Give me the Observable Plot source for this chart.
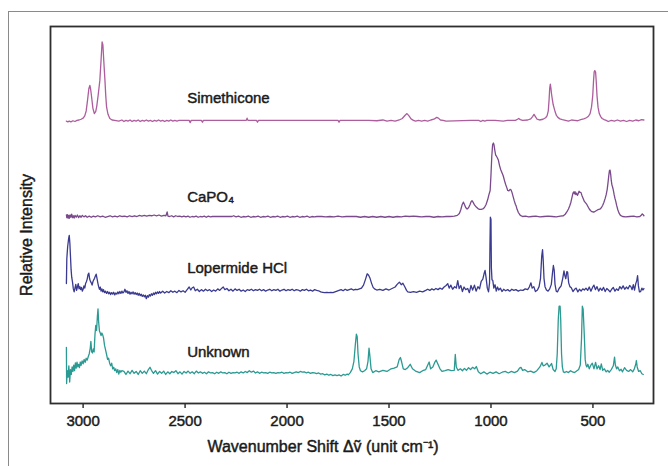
<!DOCTYPE html>
<html><head><meta charset="utf-8">
<script src="https://cdn.jsdelivr.net/npm/d3@7"></script>
<script src="https://cdn.jsdelivr.net/npm/@observablehq/plot@0.6"></script>
<style>
html,body{margin:0;padding:0;background:#fff;}
body{width:668px;height:466px;overflow:hidden;position:relative;font-family:"Liberation Sans",Arial,sans-serif;}
#border{position:absolute;left:8px;top:11px;width:700px;height:500px;border-left:1px solid #8a8a8a;border-top:1px solid #8a8a8a;}
#chart{position:absolute;left:0;top:0;}
</style></head><body><div id="border"></div><div id="chart"></div>
<script>
const seriesNames = ["Simethicone", "CaPO₄", "Lopermide HCl", "Unknown"];
const seriesColors = ["#ad5d9d", "#7a4a8c", "#3a3a90", "#2b9a92"];
const baselines = [75.1, 49.6, 30.0, 8.2];
const labelHeights = [80.9, 54.6, 35.8, 13.5];
const labelWavenumber = 2490;
const xTicks = [3000, 2500, 2000, 1500, 1000, 500];

const simethicone = [[3082,-0.2],[3075,-0.4],[3068,-0.2],[3060,-0.4],[3050,-0.1],[3040,-0.3],[3030,0.0],[3020,0.1],[3010,0.3],[3000,0.6],[2992,1.2],[2985,2.5],[2978,5.5],[2972,8.4],[2967,9.3],[2963,8.2],[2958,6.0],[2952,3.2],[2945,1.8],[2938,2.4],[2933,3.8],[2926,6.8],[2918,10.6],[2912,16.0],[2907,20.8],[2903,20.0],[2899,16.0],[2893,10.6],[2889,6.5],[2885,3.5],[2878,1.6],[2869,0.5],[2858,0.1],[2845,0.0],[2825,-0.2],[2810,0.1],[2800,-0.3],[2790,0.0],[2780,-0.2],[2770,0.1],[2760,-0.3],[2750,0.0],[2740,-0.2],[2730,0.1],[2720,-0.3],[2710,0.0],[2700,-0.2],[2690,0.1],[2680,-0.2],[2670,0.0],[2660,-0.3],[2650,0.0],[2640,-0.2],[2630,0.1],[2620,-0.2],[2610,0.0],[2600,-0.3],[2590,0.0],[2580,-0.2],[2570,0.1],[2560,-0.2],[2550,0.0],[2540,-0.2],[2530,0.0],[2480,0.0],[2475,-0.6],[2470,0.0],[2420,0.0],[2415,-0.5],[2410,0.0],[2200,0.0],[2196,0.6],[2192,0.0],[2150,0.0],[2145,-0.5],[2140,0.0],[1750,0.0],[1745,-0.5],[1740,0.0],[1600,0.0],[1560,-0.1],[1530,0.1],[1510,-0.2],[1490,0.0],[1470,-0.2],[1450,0.1],[1435,0.5],[1422,1.3],[1412,1.8],[1402,1.2],[1392,0.4],[1380,0.0],[1370,-0.2],[1355,0.0],[1340,-0.2],[1325,0.0],[1310,-0.2],[1295,0.1],[1280,0.3],[1266,0.8],[1258,0.6],[1248,0.1],[1235,0.0],[1220,-0.2],[1100,0.0],[1060,0.0],[1050,-0.3],[1040,0.0],[1030,-0.2],[1020,0.0],[980,0.0],[940,-0.2],[920,0.0],[880,0.0],[870,0.3],[864,0.5],[856,0.2],[845,0.0],[820,0.1],[805,0.4],[796,1.0],[789,1.6],[782,1.0],[774,0.3],[762,0.1],[745,0.3],[732,0.7],[725,1.2],[719,2.5],[715,5.5],[712,8.5],[709,9.6],[706,8.5],[703,7.0],[699,5.5],[695,4.2],[690,3.2],[685,2.2],[679,1.3],[672,0.8],[662,0.4],[650,0.2],[635,0.0],[620,-0.2],[605,0.1],[590,0.0],[575,-0.1],[560,0.2],[545,0.4],[532,0.7],[522,1.1],[514,1.8],[507,3.5],[501,6.5],[497,10.5],[494,12.8],[491,13.2],[487,12.8],[484,10.5],[480,6.5],[475,3.5],[469,1.8],[462,1.0],[455,0.5],[445,0.2],[435,0.0],[425,-0.3],[410,0.0],[395,-0.2],[380,0.1],[365,-0.2],[350,0.0],[335,-0.3],[320,0.0],[305,-0.2],[290,0.1],[275,-0.1],[262,0.2],[250,0.1]];

const capo4 = [[3082,0.4],[3080,-0.3],[3077,0.5],[3074,-0.4],[3071,0.3],[3068,-0.5],[3064,0.4],[3060,-0.2],[3056,0.6],[3052,-0.3],[3048,0.2],[3044,-0.4],[3040,0.3],[3034,-0.2],[3028,0.4],[3022,-0.3],[3016,0.2],[3010,-0.2],[3004,0.3],[2996,-0.1],[2988,0.2],[2980,-0.2],[2970,0.1],[2960,-0.2],[2950,0.1],[2940,-0.1],[2928,0.2],[2916,-0.1],[2904,0.1],[2892,-0.2],[2880,0.0],[2868,0.2],[2856,-0.1],[2844,0.1],[2832,-0.1],[2820,0.2],[2808,0.0],[2796,0.1],[2784,-0.1],[2772,0.2],[2760,0.0],[2748,0.2],[2736,0.0],[2724,0.3],[2712,0.1],[2700,0.3],[2688,0.1],[2676,0.3],[2664,0.2],[2652,0.4],[2640,0.2],[2628,0.4],[2616,0.1],[2604,0.3],[2594,0.2],[2588,1.2],[2584,0.1],[2576,0.0],[2566,0.2],[2556,-0.1],[2546,0.2],[2536,0.0],[2526,0.1],[2516,-0.1],[2506,0.1],[2496,-0.1],[2486,0.1],[2476,-0.2],[2466,0.0],[2456,-0.1],[2446,0.1],[2436,-0.2],[2426,0.0],[2416,-0.1],[2406,0.1],[2396,-0.2],[2386,0.1],[2376,-0.1],[2366,0.0],[2356,0.0],[2300,0.0],[2270,0.0],[2262,0.2],[2250,-0.1],[2238,0.1],[2226,-0.2],[2214,0.0],[2202,-0.1],[2190,0.1],[2178,-0.2],[2166,0.0],[2154,-0.1],[2142,0.1],[2130,-0.2],[2118,0.0],[2106,-0.1],[2094,0.1],[2082,-0.2],[2070,0.0],[2058,-0.1],[2046,0.1],[2034,-0.2],[2022,0.0],[2010,-0.1],[1998,0.1],[1986,-0.2],[1974,0.0],[1962,-0.1],[1950,0.1],[1938,-0.2],[1926,0.0],[1914,-0.1],[1902,0.1],[1890,-0.2],[1878,0.0],[1866,-0.1],[1854,0.0],[1830,0.0],[1810,-0.1],[1790,0.0],[1770,-0.1],[1750,0.1],[1730,-0.1],[1710,0.0],[1690,0.0],[1660,0.0],[1640,-0.2],[1620,0.0],[1600,-0.2],[1580,0.0],[1560,-0.2],[1540,0.0],[1520,-0.2],[1500,0.0],[1480,-0.2],[1460,0.0],[1440,-0.1],[1420,0.1],[1400,0.0],[1380,0.1],[1360,0.0],[1340,-0.1],[1320,0.0],[1300,0.0],[1280,-0.2],[1260,0.0],[1240,-0.1],[1220,0.0],[1200,0.0],[1180,0.1],[1165,0.3],[1155,0.8],[1148,1.8],[1141,3.2],[1135,3.8],[1130,3.2],[1124,2.4],[1117,2.0],[1110,2.3],[1103,3.1],[1097,4.0],[1093,4.2],[1088,3.8],[1080,3.0],[1072,2.5],[1064,2.1],[1056,1.9],[1048,1.9],[1040,2.0],[1032,2.4],[1024,3.2],[1016,4.5],[1010,5.8],[1004,6.9],[1000,11.0],[996,16.0],[992,19.0],[988,19.5],[985,19.0],[981,17.5],[977,16.3],[973,16.0],[969,15.6],[964,15.0],[958,13.5],[952,12.4],[946,11.6],[940,10.8],[934,9.6],[928,8.5],[922,7.6],[918,6.9],[912,6.8],[906,7.2],[902,7.1],[897,6.4],[892,5.4],[886,4.2],[880,3.2],[877,2.9],[872,1.9],[866,1.1],[860,0.6],[856,0.3],[845,0.0],[830,0.1],[815,-0.1],[800,0.0],[780,0.1],[760,-0.1],[740,0.0],[720,0.1],[700,0.0],[680,-0.1],[660,0.1],[645,0.2],[636,0.6],[628,1.2],[620,2.0],[614,2.8],[608,3.8],[603,5.0],[598,6.2],[594,6.5],[591,6.0],[588,6.6],[584,5.8],[580,6.2],[576,5.6],[572,6.1],[568,6.7],[564,6.4],[559,6.4],[554,5.6],[548,4.8],[542,4.0],[536,3.6],[530,3.2],[524,2.6],[518,2.0],[512,1.6],[506,1.3],[500,1.2],[494,1.2],[488,1.4],[482,1.6],[476,1.8],[470,1.9],[464,2.0],[458,2.4],[452,3.0],[446,3.8],[440,4.8],[435,5.8],[430,7.2],[426,9.0],[422,11.0],[419,12.2],[416,12.3],[413,11.2],[410,9.5],[407,8.4],[404,7.9],[400,7.0],[396,5.8],[392,4.8],[388,4.0],[384,3.0],[378,1.8],[372,0.9],[365,0.3],[355,0.0],[340,-0.1],[320,0.0],[300,0.1],[285,-0.1],[270,0.0],[262,0.4],[258,0.7],[254,0.5],[250,0.2]];

const lopermide = [[3082,1.8],[3080,8.4],[3076,11.5],[3071,13.8],[3068,14.6],[3065,12.5],[3062,9.0],[3059,5.5],[3056,3.5],[3052,2.2],[3048,0.4],[3044,-0.4],[3040,0.6],[3036,1.6],[3032,0.0],[3028,0.9],[3024,1.8],[3020,0.4],[3016,1.0],[3012,0.2],[3008,0.8],[3004,-0.2],[3000,0.3],[2996,1.2],[2992,0.6],[2988,1.8],[2984,2.3],[2980,3.0],[2976,4.2],[2972,4.6],[2968,3.0],[2964,2.4],[2960,2.0],[2956,1.4],[2952,2.3],[2948,2.8],[2944,3.2],[2940,3.8],[2936,4.3],[2932,3.2],[2928,2.0],[2924,1.0],[2920,0.3],[2916,0.9],[2912,-0.2],[2908,0.4],[2904,-0.4],[2900,0.2],[2895,-0.6],[2890,-0.2],[2885,-0.8],[2880,-0.3],[2875,-0.9],[2870,-0.5],[2865,-1.1],[2860,-0.6],[2855,-1.0],[2850,-0.5],[2845,-1.2],[2840,-0.7],[2835,-1.0],[2830,-0.4],[2825,-0.9],[2820,-0.3],[2815,-0.8],[2810,-0.2],[2805,-0.7],[2800,-0.4],[2795,0.3],[2790,-0.5],[2785,-0.1],[2780,-0.8],[2775,-0.3],[2770,-1.0],[2765,-0.5],[2760,-0.9],[2755,-0.4],[2750,-1.0],[2745,-0.6],[2740,-1.1],[2735,-0.7],[2730,-1.3],[2725,-0.8],[2720,-1.4],[2715,-1.0],[2710,-1.6],[2705,-1.2],[2700,-1.7],[2695,-1.3],[2690,-2.2],[2685,-1.4],[2680,-1.8],[2675,-1.1],[2670,-1.5],[2665,-0.9],[2660,-1.3],[2655,-0.7],[2650,-1.1],[2645,-0.5],[2640,-0.9],[2635,-0.4],[2630,-0.8],[2625,-0.3],[2620,-0.7],[2610,-0.2],[2600,-0.7],[2590,-0.3],[2580,-0.6],[2570,-0.1],[2560,-0.5],[2550,-0.2],[2540,-0.6],[2530,0.0],[2520,-0.4],[2510,-0.1],[2500,-0.5],[2490,0.2],[2480,0.9],[2472,0.1],[2465,0.7],[2458,0.9],[2450,-0.1],[2440,0.3],[2430,-0.3],[2420,0.2],[2410,-0.2],[2400,0.3],[2390,-0.1],[2380,0.2],[2370,-0.3],[2360,0.1],[2350,-0.2],[2340,0.4],[2330,0.0],[2320,0.6],[2313,0.9],[2305,0.2],[2295,0.5],[2285,-0.1],[2275,0.3],[2265,-0.2],[2255,0.4],[2245,0.0],[2235,0.3],[2225,-0.2],[2215,0.1],[2205,-0.3],[2195,0.2],[2185,0.0],[2175,0.3],[2165,-0.1],[2155,0.2],[2145,0.0],[2135,0.3],[2125,-0.1],[2115,0.2],[2105,-0.2],[2095,0.1],[2085,0.3],[2075,-0.1],[2065,0.2],[2055,0.0],[2045,0.3],[2035,-0.2],[2025,0.1],[2015,0.3],[2005,-0.1],[1995,0.2],[1985,0.0],[1975,0.3],[1965,-0.1],[1955,0.2],[1945,0.1],[1935,-0.2],[1925,0.2],[1915,0.0],[1905,0.3],[1895,-0.1],[1885,0.1],[1875,-0.2],[1865,0.2],[1855,0.0],[1845,-0.1],[1835,-0.4],[1825,-0.5],[1815,-0.6],[1805,-0.5],[1795,-0.6],[1785,-0.5],[1775,-0.6],[1765,-0.4],[1755,-0.2],[1745,0.0],[1735,0.2],[1725,-0.1],[1715,0.3],[1705,0.0],[1695,0.2],[1685,0.4],[1675,0.1],[1665,0.3],[1655,0.2],[1645,0.4],[1635,0.6],[1625,1.4],[1615,3.0],[1607,4.4],[1600,4.0],[1593,3.2],[1585,1.8],[1578,0.8],[1571,0.4],[1560,0.1],[1545,0.3],[1530,0.0],[1515,0.4],[1500,0.1],[1485,0.5],[1470,0.9],[1460,1.6],[1449,2.2],[1440,1.5],[1432,1.9],[1422,0.9],[1414,0.0],[1408,-0.4],[1395,-0.5],[1380,-0.3],[1365,-0.5],[1350,-0.2],[1335,-0.4],[1320,0.0],[1310,0.3],[1300,0.0],[1290,0.4],[1280,0.1],[1270,0.5],[1260,0.2],[1250,0.6],[1240,0.3],[1230,0.9],[1220,1.3],[1212,1.8],[1205,0.6],[1197,1.4],[1188,0.3],[1178,1.0],[1170,0.6],[1163,2.6],[1156,0.5],[1148,1.3],[1140,-0.3],[1132,0.9],[1124,0.2],[1114,0.5],[1106,-0.6],[1098,1.3],[1090,0.1],[1081,1.4],[1073,-0.2],[1064,1.0],[1056,0.4],[1048,2.4],[1040,3.0],[1034,4.4],[1029,5.3],[1024,3.4],[1018,0.6],[1012,-0.4],[1007,2.0],[1005,12.0],[1003,19.4],[1000,18.8],[998,6.0],[995,2.8],[991,2.6],[986,0.6],[980,1.5],[974,-0.2],[968,0.9],[962,0.1],[954,0.6],[946,-0.3],[938,0.3],[928,-0.1],[918,0.2],[908,-0.2],[898,0.3],[888,0.0],[878,0.2],[866,-0.2],[855,0.1],[843,0.0],[832,0.4],[820,0.2],[812,0.9],[804,2.0],[798,0.6],[790,1.0],[782,-0.3],[772,0.1],[764,1.0],[757,3.2],[751,9.2],[747,10.8],[744,8.2],[740,3.2],[735,1.0],[728,0.1],[720,-0.2],[712,0.4],[704,1.6],[698,4.8],[694,6.6],[690,5.4],[686,1.6],[680,-0.2],[674,-0.4],[666,0.5],[656,1.2],[648,3.2],[642,5.2],[638,4.0],[633,3.1],[628,5.0],[624,4.8],[619,2.0],[613,1.0],[606,0.7],[598,-0.3],[590,0.3],[582,0.6],[574,-0.4],[566,0.3],[558,-0.2],[550,0.4],[542,0.1],[534,0.6],[526,0.0],[518,0.9],[510,-0.2],[502,0.8],[495,1.4],[488,0.2],[480,1.0],[472,-0.2],[464,0.6],[456,0.0],[448,0.8],[440,-0.3],[432,0.5],[424,0.1],[416,-0.4],[408,0.3],[400,0.8],[392,-0.2],[384,0.4],[376,0.0],[368,1.0],[360,0.4],[352,1.2],[344,0.3],[336,0.9],[328,0.4],[320,1.3],[314,1.0],[308,0.2],[302,1.5],[296,0.1],[290,1.8],[285,2.6],[281,3.9],[277,1.2],[272,-0.4],[266,-0.3],[260,0.6],[255,0.1],[250,0.5]];

const unknown = [[3082,6.7],[3081,-2.9],[3078,0.5],[3074,-1.2],[3070,1.8],[3066,-2.5],[3062,0.8],[3058,-0.5],[3054,1.5],[3050,0.3],[3046,2.0],[3042,0.5],[3038,2.6],[3034,1.2],[3030,2.8],[3026,1.5],[3022,2.2],[3018,1.3],[3014,2.8],[3010,1.9],[3005,3.1],[3000,2.3],[2995,3.5],[2990,2.7],[2985,3.8],[2980,3.3],[2975,4.2],[2970,5.0],[2965,6.5],[2962,8.3],[2958,5.5],[2954,5.2],[2950,6.3],[2946,5.5],[2942,10.0],[2938,12.5],[2934,11.2],[2930,15.0],[2927,16.9],[2924,13.5],[2920,11.0],[2916,10.5],[2912,9.8],[2908,10.5],[2904,10.0],[2900,9.2],[2895,7.2],[2890,6.0],[2885,4.8],[2880,3.5],[2875,3.8],[2870,2.5],[2865,1.8],[2860,2.5],[2855,1.0],[2850,1.4],[2845,0.5],[2840,1.0],[2835,0.0],[2830,0.8],[2825,-0.4],[2820,0.6],[2815,0.1],[2810,0.5],[2800,0.3],[2790,-0.5],[2780,0.4],[2770,-0.3],[2760,0.6],[2750,-0.2],[2740,0.3],[2730,-0.5],[2720,0.5],[2710,-0.2],[2700,0.4],[2690,-0.3],[2680,0.8],[2672,1.4],[2665,0.6],[2655,-0.2],[2645,0.5],[2635,-0.4],[2625,0.3],[2615,-0.2],[2605,0.4],[2595,-0.5],[2585,0.2],[2575,-0.3],[2565,0.3],[2555,0.0],[2545,0.5],[2535,-0.3],[2525,0.2],[2515,-0.4],[2505,0.3],[2495,-0.1],[2485,0.4],[2475,-0.2],[2465,0.2],[2455,-0.3],[2445,0.4],[2435,-0.1],[2425,0.2],[2415,-0.2],[2405,0.1],[2395,-0.3],[2385,0.2],[2375,-0.1],[2365,0.0],[2355,-0.3],[2345,0.1],[2335,-0.2],[2325,0.2],[2315,-0.1],[2305,0.0],[2295,-0.3],[2285,0.1],[2275,-0.2],[2265,0.0],[2255,-0.1],[2245,0.1],[2235,-0.2],[2225,0.2],[2215,-0.1],[2205,0.3],[2195,0.0],[2185,0.5],[2175,0.1],[2165,0.4],[2155,-0.1],[2145,0.2],[2135,-0.2],[2125,0.1],[2115,-0.1],[2105,0.0],[2095,-0.2],[2085,0.1],[2075,-0.1],[2065,0.0],[2055,-0.2],[2045,0.0],[2035,-0.1],[2025,0.1],[2015,-0.2],[2005,0.0],[1995,-0.1],[1985,0.1],[1975,-0.2],[1965,0.0],[1955,0.2],[1945,0.0],[1935,0.3],[1925,0.1],[1915,0.2],[1905,-0.1],[1895,0.1],[1885,-0.2],[1875,0.0],[1865,-0.1],[1855,-0.3],[1845,-0.1],[1835,-0.4],[1825,-0.3],[1815,-0.6],[1805,-0.4],[1795,-0.7],[1785,-0.5],[1775,-0.8],[1765,-0.6],[1755,-0.8],[1745,-0.6],[1735,-0.9],[1725,-0.5],[1715,-0.7],[1705,-0.4],[1700,-0.6],[1690,0.0],[1680,1.0],[1672,3.0],[1665,7.5],[1660,10.2],[1656,9.5],[1652,5.0],[1646,1.5],[1640,0.5],[1630,0.2],[1620,0.5],[1610,1.0],[1603,3.0],[1598,6.5],[1594,4.5],[1588,1.0],[1580,0.0],[1565,0.5],[1550,0.2],[1530,0.6],[1510,0.3],[1490,1.0],[1475,1.2],[1460,1.5],[1450,3.5],[1444,4.0],[1438,2.8],[1430,1.0],[1420,0.8],[1410,1.2],[1396,2.2],[1385,1.0],[1370,0.4],[1350,0.0],[1335,0.5],[1320,0.8],[1310,2.0],[1303,2.8],[1296,1.0],[1285,1.5],[1275,2.8],[1269,3.3],[1262,2.5],[1250,1.0],[1240,0.3],[1225,0.5],[1210,0.8],[1195,0.5],[1180,0.6],[1175,4.8],[1170,1.5],[1162,0.6],[1150,1.0],[1140,0.5],[1130,1.1],[1120,0.6],[1110,1.3],[1100,0.8],[1090,1.4],[1080,1.0],[1072,1.6],[1062,0.2],[1050,-0.3],[1035,0.2],[1020,-0.4],[1005,0.1],[990,-0.2],[975,0.2],[960,-0.3],[945,0.1],[930,0.3],[915,-0.1],[900,0.3],[885,0.0],[870,0.4],[860,1.2],[853,1.4],[845,0.6],[835,0.8],[820,0.2],[805,0.4],[790,0.0],[775,0.5],[760,1.5],[750,2.7],[744,1.8],[735,2.0],[725,2.5],[715,1.5],[703,2.4],[695,0.8],[686,0.3],[680,1.0],[675,5.0],[670,14.0],[666,17.6],[661,17.6],[658,14.0],[654,5.0],[650,1.5],[645,0.2],[638,0.0],[630,0.3],[620,0.0],[610,0.5],[600,0.2],[590,0.0],[580,0.4],[570,0.8],[562,2.0],[556,9.0],[552,17.6],[548,16.8],[544,12.0],[541,8.0],[538,3.5],[534,2.0],[530,1.5],[525,2.2],[518,1.0],[510,2.0],[503,2.5],[495,1.0],[487,2.7],[480,1.0],[472,1.8],[465,0.8],[459,2.3],[452,0.6],[444,1.0],[435,0.2],[428,0.6],[420,0.1],[410,0.8],[400,1.8],[394,4.1],[390,2.0],[384,1.0],[378,1.5],[370,0.5],[362,0.9],[355,0.2],[345,1.3],[335,0.6],[325,0.3],[315,0.8],[305,0.2],[297,1.0],[290,2.2],[287,3.2],[283,1.5],[276,0.3],[268,0.5],[260,-0.3],[253,-0.5]];

const spectra = [simethicone, capo4, lopermide, unknown];
const rows = [];
spectra.forEach((s, k) => s.forEach(([w, v]) => rows.push({series: seriesNames[k], wn: w, intensity: v + baselines[k]})));
const labels = seriesNames.map((n, k) => ({series: n, wn: labelWavenumber, y: labelHeights[k]}));

const font = "'Liberation Sans', Arial, Helvetica, sans-serif";
const ink = "#1a1a1a";
const heavy = {fill: ink, stroke: ink, strokeWidth: 0.45};
const chart = Plot.plot({
  width: 668, height: 466,
  marginLeft: 50, marginTop: 26, marginRight: 15, marginBottom: 63,
  x: {domain: [3160, 203]},
  y: {domain: [0, 100], axis: null},
  color: {domain: seriesNames, range: seriesColors},
  style: {fontFamily: font, background: "transparent", color: ink},
  marks: [
    Plot.line(rows, {x: "wn", y: "intensity", z: "series", stroke: "series", strokeWidth: 1.3}),
    Plot.text(labels, {x: "wn", y: "y", text: "series", textAnchor: "start", fontSize: 15, ...heavy}),
    Plot.axisX({ticks: xTicks, tickFormat: d => String(d), tickSize: 5, tickPadding: 7, fontSize: 15, label: null, stroke: "#333", strokeWidth: 1.5}),
    Plot.text(["Wavenumber Shift Δṽ (unit cm⁻¹)"], {frameAnchor: "bottom", lineAnchor: "middle", dx: -29, dy: 43, fontSize: 16, ...heavy}),
    Plot.text(["Relative Intensity"], {frameAnchor: "left", textAnchor: "middle", lineAnchor: "middle", dx: -24, dy: 20, rotate: -90, fontSize: 16, ...heavy}),
    Plot.frame({stroke: "#2e2e2e", strokeWidth: 1.8})
  ]
});
document.getElementById("chart").appendChild(chart);
// thicken tick labels slightly to match the heavier print weight
d3.select(chart).selectAll("[aria-label='x-axis tick label'] text").attr("stroke", ink).attr("stroke-width", 0.45).attr("paint-order", "stroke");
</script></body></html>
